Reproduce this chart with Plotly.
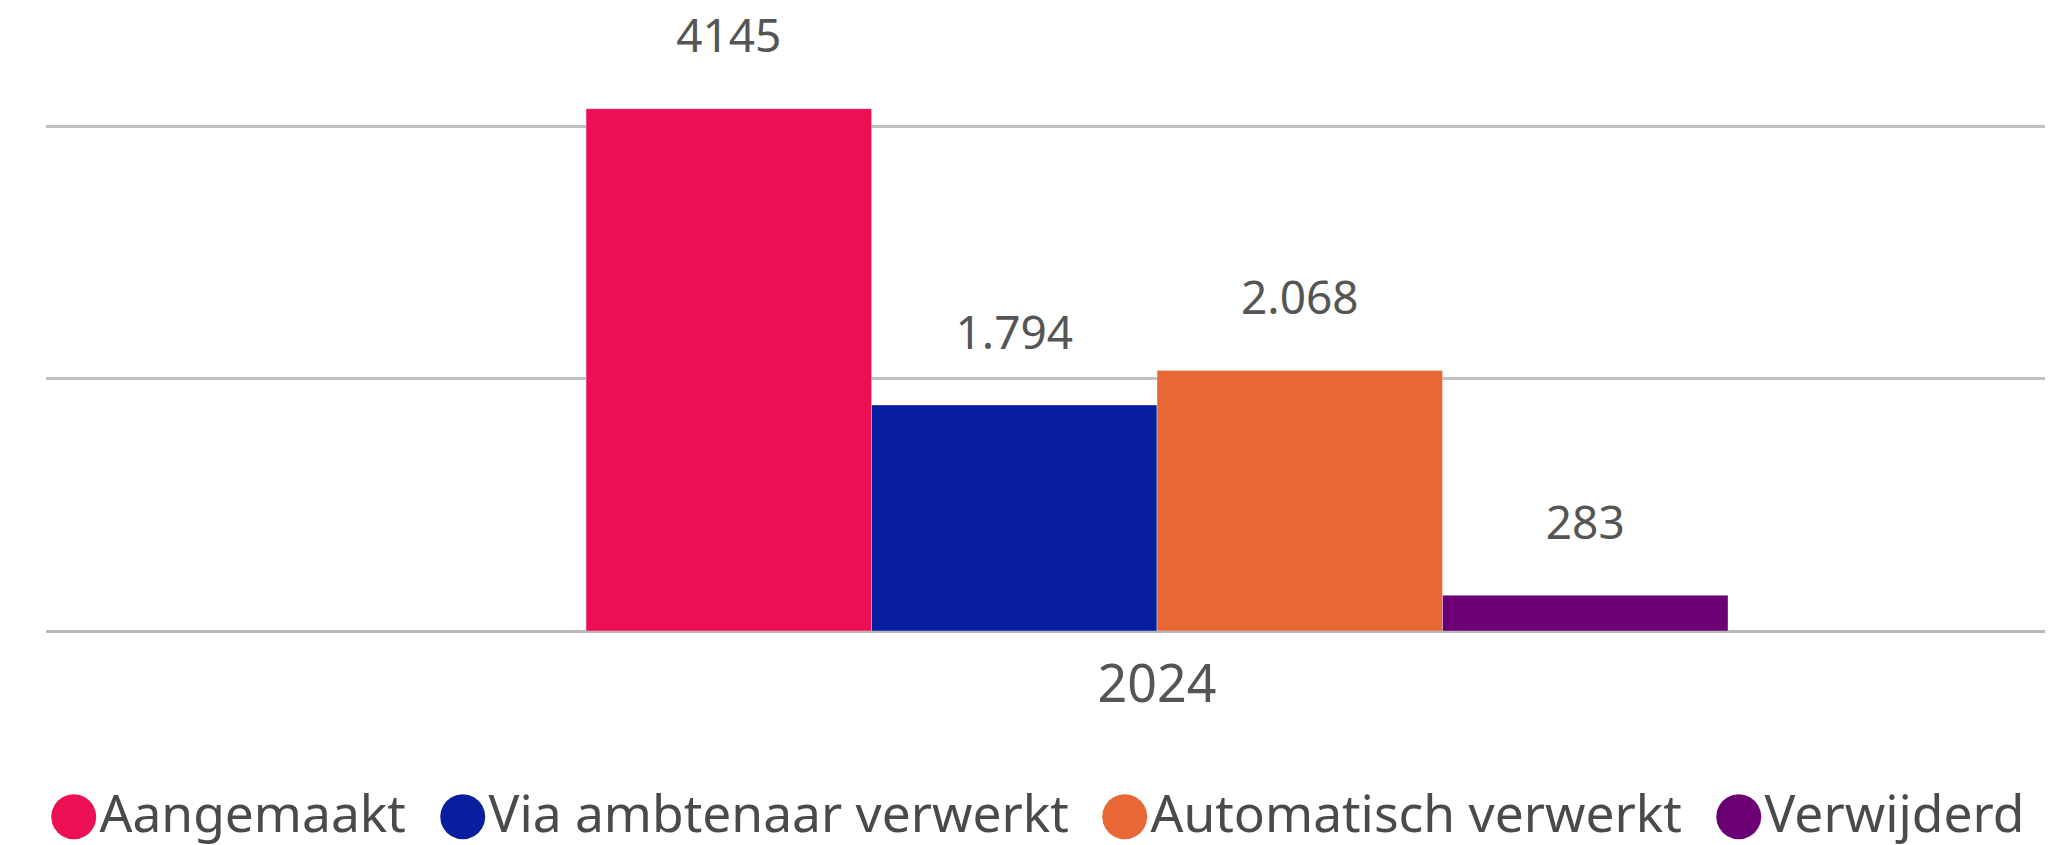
import plotly.graph_objects as go

# ---- data ----
categories = ["2024"]
series_names = ["Aangemaakt", "Via ambtenaar verwerkt", "Automatisch verwerkt", "Verwijderd"]
series_values = [4145, 1794, 2068, 283]
value_labels = ["4145", "1.794", "2.068", "283"]
colors = ["#EC0F54", "#071E9F", "#E76835", "#6A0073"]
y_ticks = [0, 2000, 4000]

FONT = "Segoe UI, Noto Sans, Open Sans, sans-serif"
TEXT_COLOR = "#555555"

# legend entry widths (px) - styling only
legend_widths = [344, 617, 569, 318]

fig = go.Figure()

for name, val, lab, col in zip(series_names, series_values, value_labels, colors):
    txt = (f"<span style='font-size:46px'>{lab}</span>"
           f"<br><span style='font-size:1px;color:rgba(255,255,255,0)'>.</span>")
    fig.add_trace(go.Bar(
        x=categories, y=[val], name=name,
        marker=dict(color=col, line=dict(width=1, color="rgba(255,255,255,0.35)")),
        text=[txt], textposition="outside", cliponaxis=False,
        textfont=dict(size=41, color=TEXT_COLOR, family=FONT),
        showlegend=False, hoverinfo="y+name",
    ))

# legend entries with large round markers
for name, col, lw in zip(series_names, colors, legend_widths):
    fig.add_trace(go.Scatter(
        x=[None], y=[None], mode="none", showlegend=True,
        legendwidth=lw,
        name=(f"<span style='font-family:DejaVu Sans;font-size:59px;color:{col}'>●</span>"
              f"{name}"),
        hoverinfo="skip",
    ))

fig.update_layout(
    width=2062, height=837,
    margin=dict(l=38, r=25, t=12, b=214, autoexpand=False),
    paper_bgcolor="white", plot_bgcolor="white",
    barmode="group", bargap=0.357, bargroupgap=0,
    font=dict(family=FONT, color=TEXT_COLOR),
    legend=dict(
        orientation="h", xref="paper", yref="paper",
        x=-0.019, xanchor="left", y=-0.2962, yanchor="middle",
        font=dict(size=51.5, color="#4a4a4a", family=FONT),
        itemwidth=30, tracegroupgap=0, bgcolor="rgba(0,0,0,0)",
    ),
    xaxis=dict(
        type="category", range=[-0.6256, 0.5],
        showgrid=False, showline=False, zeroline=False, ticks="",
        tickfont=dict(size=52, color=TEXT_COLOR, family=FONT),
        ticklabelstandoff=18,
    ),
    yaxis=dict(
        range=[0, 4849], tickvals=y_ticks, showticklabels=False,
        showgrid=True, gridcolor="#c0c0c0", gridwidth=3,
        zeroline=True, zerolinecolor="#b8b8b8", zerolinewidth=3,
        showline=False, ticks="",
    ),
)

fig.write_html("out.html")
